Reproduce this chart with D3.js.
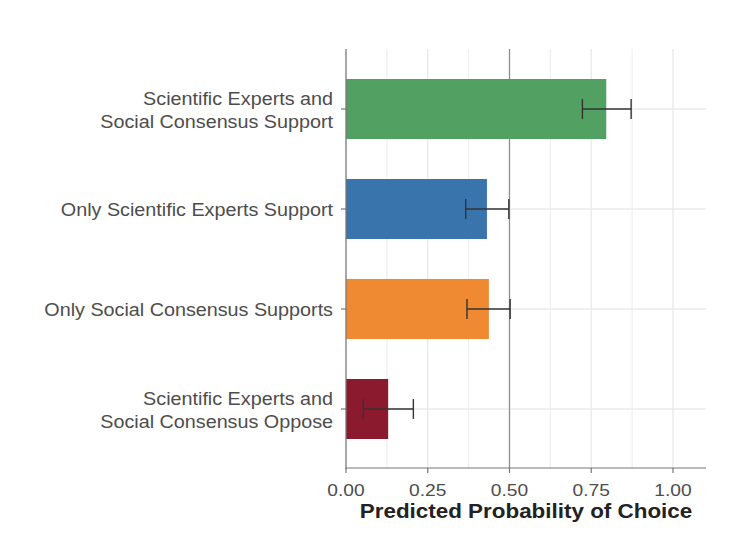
<!DOCTYPE html>
<html><head><meta charset="utf-8">
<script src="https://cdn.jsdelivr.net/npm/d3@7"></script>
<style>body{margin:0;background:#fff}svg{display:block}</style>
</head><body>
<script>
const categories = [
  "Scientific Experts and\nSocial Consensus Support",
  "Only Scientific Experts Support",
  "Only Social Consensus Supports",
  "Scientific Experts and\nSocial Consensus Oppose"
];
const estimates = [0.796, 0.431, 0.437, 0.129];
const lower = [0.723, 0.366, 0.370, 0.053];
const upper = [0.872, 0.498, 0.502, 0.206];
const colors = ["#52a163", "#3a74ad", "#ef8a33", "#8b1a2f"];
const xTicks = [0, 0.25, 0.5, 0.75, 1.0];
const xMinor = [0.125, 0.375, 0.625, 0.875];
const xTitle = "Predicted Probability of Choice";

const W = 750, H = 533;
const L = 346, R = 706, T = 49, B = 469;
const svg = d3.select("body").append("svg").attr("width", W).attr("height", H);
const font = "'Liberation Sans', Arial, sans-serif";

const x = d3.scaleLinear().domain([0, 1.101]).range([L, R]);
const y = d3.scaleBand().domain(categories).range([T + 10, B - 10]).paddingInner(0.4).paddingOuter(0.2);
const yc = d => y(d) + y.bandwidth() / 2;

// helper: horizontally stretched text (reference glyphs are wider than Liberation Sans)
function stext(parent, px, py, str, size, sx, anchor, weight, fill) {
  return parent.append("text")
    .attr("transform", `translate(${px},${py}) scale(${sx},1)`)
    .attr("text-anchor", anchor).attr("font-family", font)
    .attr("font-size", size).attr("font-weight", weight).attr("fill", fill)
    .text(str);
}

// grid
const g = svg.append("g");
g.selectAll(".minor").data(xMinor).enter().append("line")
  .attr("x1", d => x(d)).attr("x2", d => x(d)).attr("y1", T).attr("y2", B)
  .attr("stroke", "#efefef").attr("stroke-width", 1.2);
g.selectAll(".major").data(xTicks).enter().append("line")
  .attr("x1", d => x(d)).attr("x2", d => x(d)).attr("y1", T).attr("y2", B)
  .attr("stroke", "#ebebeb").attr("stroke-width", 1.4);
g.selectAll(".hg").data(categories).enter().append("line")
  .attr("x1", L).attr("x2", R).attr("y1", d => yc(d)).attr("y2", d => yc(d))
  .attr("stroke", "#ebebeb").attr("stroke-width", 1.4);

// reference line at 0.5
svg.append("line").attr("x1", x(0.5)).attr("x2", x(0.5)).attr("y1", T).attr("y2", B)
  .attr("stroke", "#8c8c8c").attr("stroke-width", 1.2);

// bars
svg.selectAll(".bar").data(categories).enter().append("rect")
  .attr("x", x(0)).attr("y", d => y(d))
  .attr("width", (d, i) => x(estimates[i]) - x(0))
  .attr("height", y.bandwidth())
  .attr("fill", (d, i) => colors[i]);

// error bars
const eb = svg.append("g").attr("stroke", "#333").attr("stroke-width", 1.4).attr("fill", "none");
categories.forEach((c, i) => {
  const cy = yc(c);
  eb.append("line").attr("x1", x(lower[i])).attr("x2", x(upper[i])).attr("y1", cy).attr("y2", cy);
  [lower[i], upper[i]].forEach(v => {
    eb.append("line").attr("x1", x(v)).attr("x2", x(v)).attr("y1", cy - 10).attr("y2", cy + 10);
  });
});

// axes lines
svg.append("line").attr("x1", L).attr("x2", L).attr("y1", T).attr("y2", B)
  .attr("stroke", "#777").attr("stroke-width", 1.2);
svg.append("line").attr("x1", L).attr("x2", R).attr("y1", B - 1).attr("y2", B - 1)
  .attr("stroke", "#777").attr("stroke-width", 1.2);

// x ticks
const xt = svg.append("g");
xt.selectAll("line").data(xTicks).enter().append("line")
  .attr("x1", d => x(d)).attr("x2", d => x(d)).attr("y1", B - 1).attr("y2", B + 4)
  .attr("stroke", "#777").attr("stroke-width", 1.2);
xTicks.forEach(d => stext(xt, x(d), 496, d3.format(".2f")(d), 17.3, 1.11, "middle", "normal", "#4d4d4d"));

// y ticks
const yt = svg.append("g");
yt.selectAll("line").data(categories).enter().append("line")
  .attr("x1", L - 5).attr("x2", L).attr("y1", d => yc(d)).attr("y2", d => yc(d))
  .attr("stroke", "#777").attr("stroke-width", 1.2);
categories.forEach(c => {
  const lines = c.split("\n");
  const lh = 23;
  lines.forEach((ln, j) => {
    stext(yt, L - 13, yc(c) + 7 + (j - (lines.length - 1) / 2) * lh, ln, 18.3, 1.08, "end", "normal", "#4d4d4d");
  });
});

// x title
stext(svg, (L + R) / 2, 518, xTitle, 19.5, 1.15, "middle", "bold", "#222");
</script>
</body></html>
